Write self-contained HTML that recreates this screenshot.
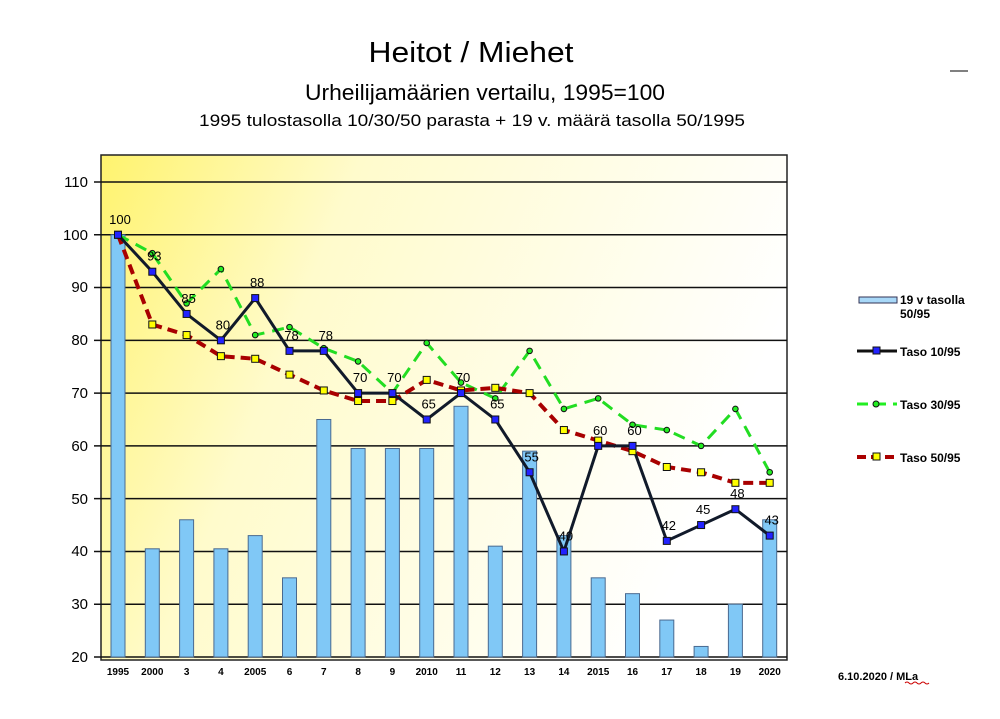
<!DOCTYPE html>
<html><head><meta charset="utf-8"><style>body{margin:0;background:#fff}svg{display:block}text{font-family:"Liberation Sans",sans-serif}</style></head><body>
<svg width="1000" height="719" viewBox="0 0 1000 719">
<defs><linearGradient id="bg" x1="0" x2="1" y1="0" y2="0.3"><stop offset="0" stop-color="#fff36e"/><stop offset="0.35" stop-color="#fffbcc"/><stop offset="1" stop-color="#ffffff"/></linearGradient></defs>
<text x="471" y="62" font-size="29" text-anchor="middle" textLength="205" lengthAdjust="spacingAndGlyphs">Heitot / Miehet</text>
<text x="485" y="100" font-size="22" text-anchor="middle" textLength="360" lengthAdjust="spacingAndGlyphs">Urheilijamäärien vertailu, 1995=100</text>
<text x="472" y="126" font-size="17" text-anchor="middle" textLength="546" lengthAdjust="spacingAndGlyphs">1995 tulostasolla 10/30/50 parasta + 19 v. määrä tasolla 50/1995</text>
<line x1="950" y1="71" x2="968" y2="71" stroke="#000"/>
<rect x="101" y="155" width="686" height="505" fill="url(#bg)" stroke="#222" stroke-width="1.5"/>
<g id="grid" stroke="#111" stroke-width="1.5"></g>
<g id="bars"></g><g id="lines"></g><g id="lab" font-size="13"></g>
<g font-size="15" text-anchor="end">
<text x="88" y="187">110</text><text x="88" y="240">100</text><text x="88" y="292">90</text><text x="88" y="345">80</text><text x="88" y="398">70</text><text x="88" y="451">60</text><text x="88" y="504">50</text><text x="88" y="556">40</text><text x="88" y="609">30</text><text x="88" y="662">20</text></g>
<g id="xl" font-size="10" font-weight="bold" text-anchor="middle"></g>
<rect x="859" y="297" width="38" height="6" fill="#a8d8f8" stroke="#335" stroke-width="1"/>
<text x="900" y="304" font-size="12" font-weight="bold">19 v tasolla</text><text x="900" y="318" font-size="12" font-weight="bold">50/95</text>
<line x1="857" y1="351" x2="897" y2="351" stroke="#111" stroke-width="3"/><rect x="873" y="347" width="7" height="7" fill="#22f" stroke="#111"/>
<text x="900" y="356" font-size="12" font-weight="bold">Taso 10/95</text>
<line x1="857" y1="404" x2="897" y2="404" stroke="#2e2" stroke-width="3" stroke-dasharray="11,7"/><circle cx="876" cy="404" r="3" fill="#2e2" stroke="#111"/>
<text x="900" y="409" font-size="12" font-weight="bold">Taso 30/95</text>
<line x1="857" y1="457" x2="897" y2="457" stroke="#a00" stroke-width="4" stroke-dasharray="9,5"/><rect x="873" y="453" width="7" height="7" fill="#ff0" stroke="#111"/>
<text x="900" y="462" font-size="12" font-weight="bold">Taso 50/95</text>
<text x="838" y="680" font-size="11" font-weight="bold">6.10.2020 / MLa</text>
<path d="M905 683 q2 -2 4 0 t4 0 t4 0 t4 0 t4 0 t4 0" stroke="#c00" fill="none" stroke-width="1"/>
</svg>
<script>
const ns="http://www.w3.org/2000/svg";
function el(p,t,a,txt){const e=document.createElementNS(ns,t);for(const k in a)e.setAttribute(k,a[k]);if(txt!=null)e.textContent=txt;document.getElementById(p).appendChild(e);return e;}
const Y=v=>657-(v-20)*5.278, X=i=>118+i*34.3;
for(let v=20;v<=110;v+=10){el("grid","line",{x1:94,x2:787,y1:Y(v),y2:Y(v)});}
const bars=[100,40.5,46,40.5,43,35,65,59.5,59.5,59.5,67.5,41,59,43,35,32,27,22,30,46];
const t10=[100,93,85,80,88,78,78,70,70,65,70,65,55,40,60,60,42,45,48,43];
const t30=[100,96.5,87,93.5,81,82.5,78.5,76,70,79.5,72,69,78,67,69,64,63,60,67,55];
const t50=[100,83,81,77,76.5,73.5,70.5,68.5,68.5,72.5,70.5,71,70,63,61,59,56,55,53,53];
const xl=["1995","2000","3","4","2005","6","7","8","9","2010","11","12","13","14","2015","16","17","18","19","2020"];
bars.forEach((v,i)=>{el("bars","rect",{x:X(i)-7,y:Y(v),width:14,height:657-Y(v),fill:"#80c8f6",stroke:"#4a6a90","stroke-width":1});el("xl","text",{x:X(i),y:675},xl[i]);});
const pts=a=>a.map((v,i)=>X(i)+","+Y(v)).join(" ");
el("lines","polyline",{points:pts(t30),fill:"none",stroke:"#22dd22","stroke-width":3,"stroke-dasharray":"12,8"});
el("lines","polyline",{points:pts(t50),fill:"none",stroke:"#a80000","stroke-width":4,"stroke-dasharray":"10,6"});
el("lines","polyline",{points:pts(t10),fill:"none",stroke:"#111a2a","stroke-width":3});
t30.forEach((v,i)=>el("lines","circle",{cx:X(i),cy:Y(v),r:2.8,fill:"#2e2",stroke:"#111"}));
t50.forEach((v,i)=>el("lines","rect",{x:X(i)-3.5,y:Y(v)-3.5,width:7,height:7,fill:"#ff0",stroke:"#111"}));
t10.forEach((v,i)=>{el("lines","rect",{x:X(i)-3.5,y:Y(v)-3.5,width:7,height:7,fill:"#22f",stroke:"#111"});el("lab","text",{x:X(i)+2,y:Y(v)-11,"text-anchor":"middle"},String(v));});
</script>
</body></html>
